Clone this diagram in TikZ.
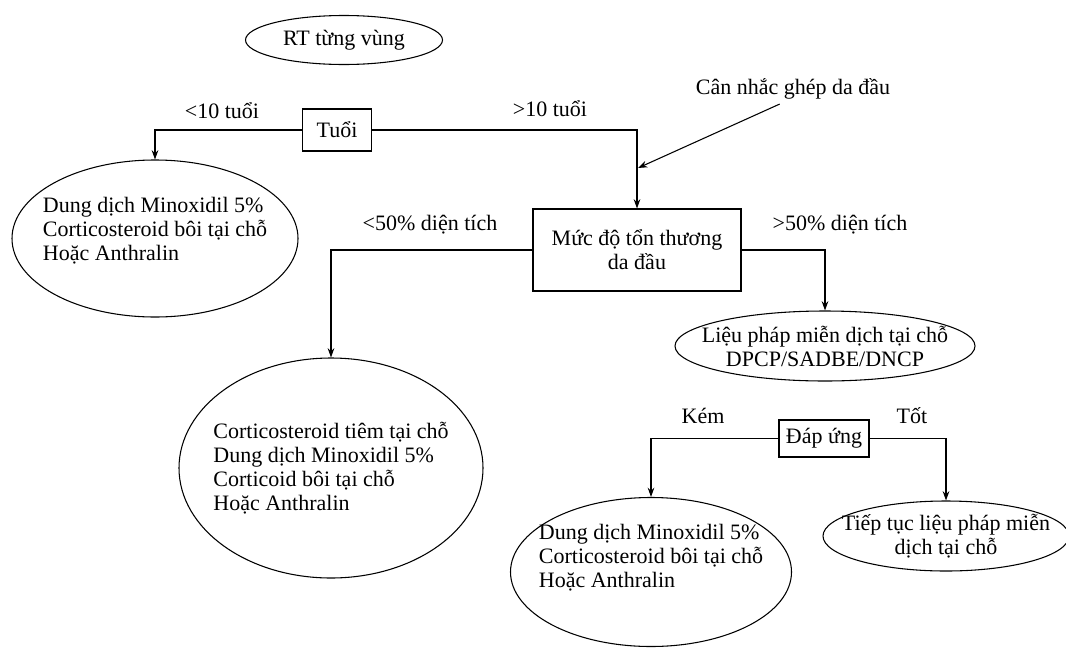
\documentclass[tikz,border=0pt]{standalone}
\usepackage{fontspec}
\setmainfont{Liberation Serif}
\usetikzlibrary{arrows.meta,positioning,shapes.geometric}

\begin{document}
\begin{tikzpicture}[x=0.75pt,y=-0.75pt,
  font=\fontsize{16.5}{18}\selectfont,
  oval/.style={draw,ellipse,inner sep=0pt,line width=0.8pt},
  choice/.style={draw,rectangle,inner sep=0pt,line width=0.8pt},
  arr/.style={-{Stealth[length=7pt,width=5pt]},line width=0.8pt}]
\useasboundingbox (0,0) rectangle (1066,650);

\node[oval,minimum width=147.75pt,minimum height=36.75pt] (rt) at (344,40) {RT từng vùng};
\node[choice,minimum width=51.75pt,minimum height=31.5pt] (tuoi) at (337,130) {Tuổi};
\node[oval,minimum width=214.5pt,minimum height=117.75pt,
  label={[align=left,yshift=5.5pt]center:Dung dịch Minoxidil 5\%\\Corticosteroid bôi tại chỗ\\Hoặc Anthralin}] (duoi10) at (155,238.5) {};
\node[choice,minimum width=156pt,minimum height=61.5pt,align=center] (muc) at (637,250) {Mức độ tổn thương\\da đầu};
\node (ghep) at (793,89) {Cân nhắc ghép da đầu};
\coordinate (ghepTip) at (638,168);
\node[oval,minimum width=228pt,minimum height=165pt,
  label={[align=left]center:Corticosteroid tiêm tại chỗ\\Dung dịch Minoxidil 5\%\\Corticoid bôi tại chỗ\\Hoặc Anthralin}] (duoi50) at (331,468) {};
\node[oval,minimum width=225pt,minimum height=52.5pt,
  label={[align=center]center:Liệu pháp miễn dịch tại chỗ\\DPCP/SADBE/DNCP}] (mdtc) at (825,346) {};
\node[choice,minimum width=67.5pt,minimum height=27.75pt] (dapung) at (824,438.5) {Đáp ứng};
\node[oval,minimum width=210.75pt,minimum height=111.75pt,
  label={[align=left,yshift=10.5pt]center:Dung dịch Minoxidil 5\%\\Corticosteroid bôi tại chỗ\\Hoặc Anthralin}] (kem) at (651,572) {};
\node[oval,minimum width=184.5pt,minimum height=52.5pt,
  label={[align=center]center:Tiếp tục liệu pháp miễn\\dịch tại chỗ}] (tot) at (946,536) {};

% branches
\draw[arr] (tuoi.west) -| (duoi10.north);
\draw[arr] (tuoi.east) -| (muc.north);
\draw[arr] ([xshift=-10pt]ghep.south) -- (ghepTip);
\draw[arr] (muc.west) -| (duoi50.north);
\draw[arr] (muc.east) -| (mdtc.north);
\draw[arr] (dapung.west) -| (kem.north);
\draw[arr] (dapung.east) -| (tot.north);

% branch labels
\foreach \px/\py/\txt in {222/111/{<10 tuổi},550/109/{>10 tuổi},430/225/{<50\% diện tích},
  840/225/{>50\% diện tích},703/416/{Kém},912/416/{Tốt}} {
  \node (lbl\px) at (\px,\py) {\txt};
}
\end{tikzpicture}
\end{document}
